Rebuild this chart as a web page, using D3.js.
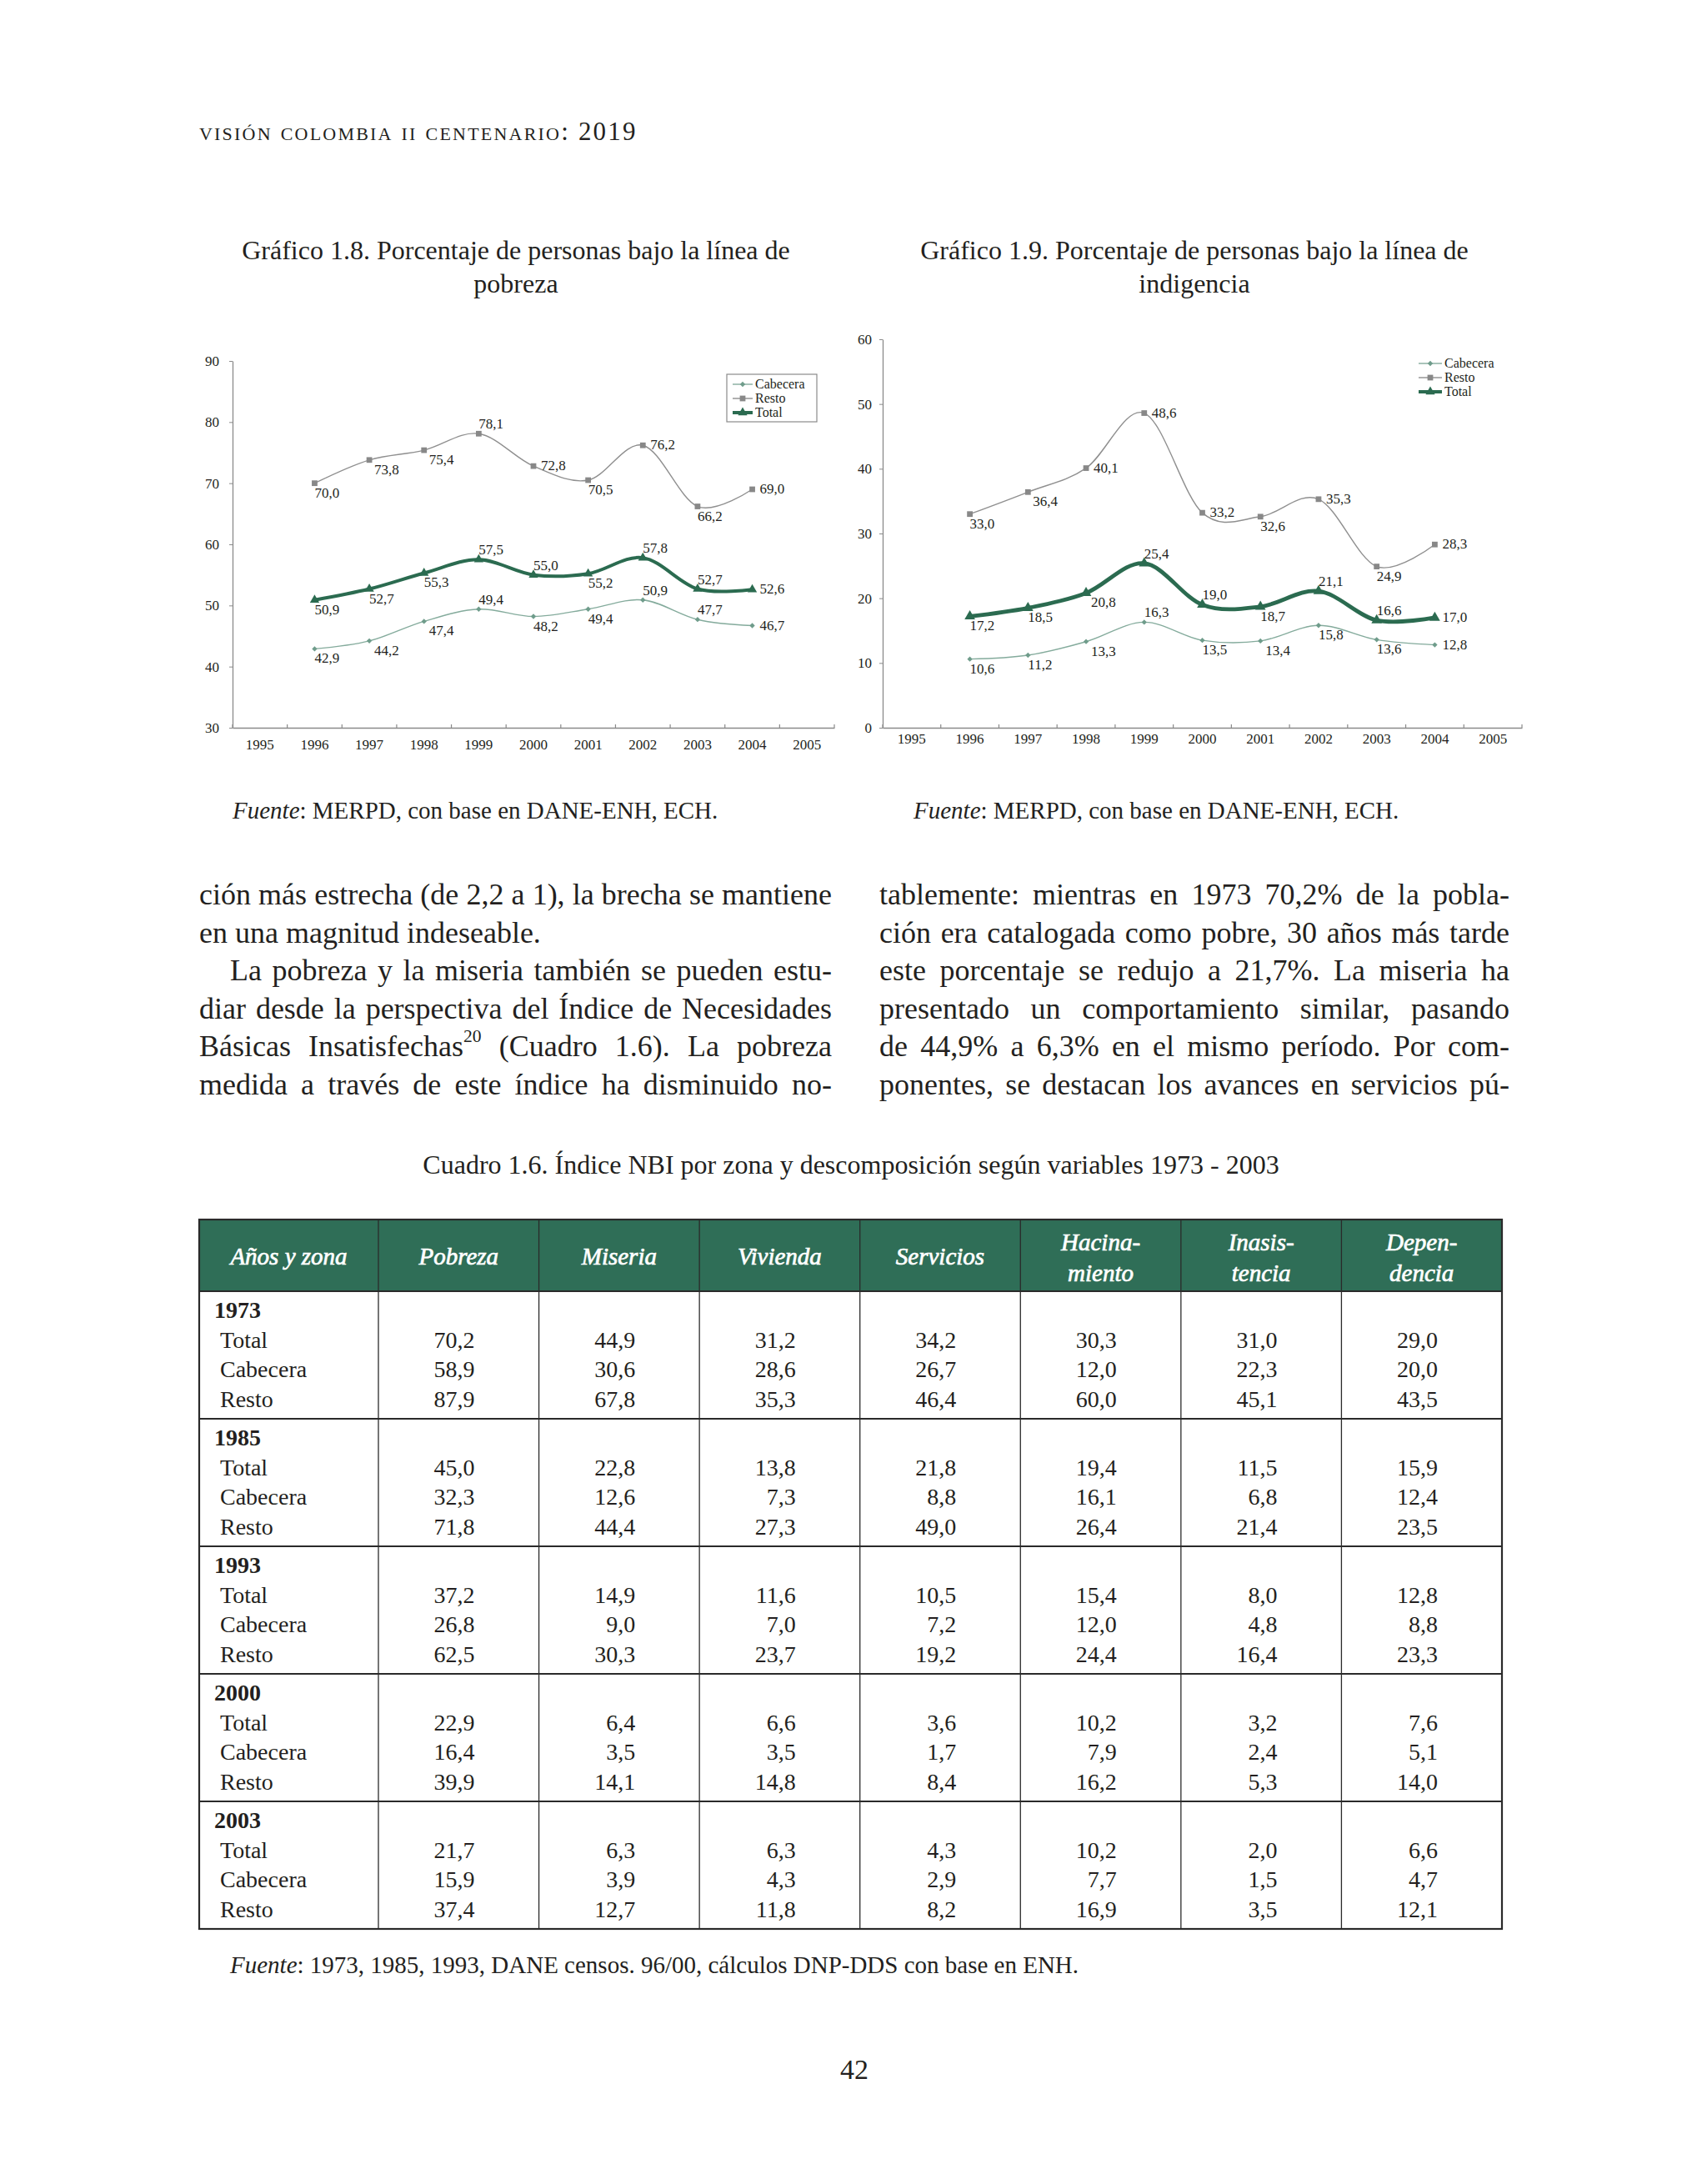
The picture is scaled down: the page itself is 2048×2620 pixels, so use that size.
<!DOCTYPE html>
<html>
<head>
<meta charset="utf-8">
<script src="https://cdn.jsdelivr.net/npm/d3@7"></script>
<style>
body { margin: 0; background: #fff; }
#page { position: relative; width: 2048px; height: 2620px; overflow: hidden;
        font-family: 'Liberation Serif', 'DejaVu Serif', serif; color: #231f20; }
#page svg { position: absolute; left: 0; top: 0; }
.col { position: absolute; top: 1051px; font-size: 36px; line-height: 45.5px; }
.col span { display: block; text-align: justify; text-align-last: justify; }
.col span.last { text-align-last: left; }
.col sup { font-size: 60%; line-height: 0; vertical-align: 0.8em; }
</style>
</head>
<body>
<div id="page"></div>
<script>
// categories on the x axis
let yearCats = ['1995', '1996', '1997', '1998', '1999', '2000', '2001', '2002', '2003', '2004', '2005']
let dataYears = ['1996', '1997', '1998', '1999', '2000', '2001', '2002', '2003', '2004']

// grafico 1.8 pobreza
let pobrezaCabecera = [42.9, 44.2, 47.4, 49.4, 48.2, 49.4, 50.9, 47.7, 46.7]
let pobrezaResto = [70.0, 73.8, 75.4, 78.1, 72.8, 70.5, 76.2, 66.2, 69.0]
let pobrezaTotal = [50.9, 52.7, 55.3, 57.5, 55.0, 55.2, 57.8, 52.7, 52.6]
let pobrezaTicks = [30, 40, 50, 60, 70, 80, 90]

// grafico 1.9 indigencia
let indigCabecera = [10.6, 11.2, 13.3, 16.3, 13.5, 13.4, 15.8, 13.6, 12.8]
let indigResto = [33.0, 36.4, 40.1, 48.6, 33.2, 32.6, 35.3, 24.9, 28.3]
let indigTotal = [17.2, 18.5, 20.8, 25.4, 19.0, 18.7, 21.1, 16.6, 17.0]
let indigTicks = [0, 10, 20, 30, 40, 50, 60]

// where the value label goes: b below, br below right, a above, r right
let pobrezaCabLab = ['b', 'br', 'br', 'a', 'b', 'b', 'a', 'a', 'r']
let pobrezaRestoLab = ['b', 'br', 'br', 'a', 'r', 'b', 'r', 'b', 'r']
let pobrezaTotalLab = ['b', 'b', 'b', 'a', 'a', 'b', 'a', 'a', 'r']
let indigCabLab = ['b', 'b', 'br', 'a', 'b', 'br', 'b', 'b', 'r']
let indigRestoLab = ['b', 'br', 'r', 'r', 'r', 'b', 'r', 'b', 'r']
let indigTotalLab = ['b', 'b', 'br', 'a', 'a', 'b', 'a', 'a', 'r']

// cuadro 1.6
let tableYears = ['1973', '1985', '1993', '2000', '2003']
let zonas = ['Total', 'Cabecera', 'Resto']
let tableHeads = [['Años y zona'], ['Pobreza'], ['Miseria'], ['Vivienda'], ['Servicios'],
                  ['Hacina-', 'miento'], ['Inasis-', 'tencia'], ['Depen-', 'dencia']]
let nbi1973 = [[70.2, 44.9, 31.2, 34.2, 30.3, 31.0, 29.0],
               [58.9, 30.6, 28.6, 26.7, 12.0, 22.3, 20.0],
               [87.9, 67.8, 35.3, 46.4, 60.0, 45.1, 43.5]]
let nbi1985 = [[45.0, 22.8, 13.8, 21.8, 19.4, 11.5, 15.9],
               [32.3, 12.6, 7.3, 8.8, 16.1, 6.8, 12.4],
               [71.8, 44.4, 27.3, 49.0, 26.4, 21.4, 23.5]]
let nbi1993 = [[37.2, 14.9, 11.6, 10.5, 15.4, 8.0, 12.8],
               [26.8, 9.0, 7.0, 7.2, 12.0, 4.8, 8.8],
               [62.5, 30.3, 23.7, 19.2, 24.4, 16.4, 23.3]]
let nbi2000 = [[22.9, 6.4, 6.6, 3.6, 10.2, 3.2, 7.6],
               [16.4, 3.5, 3.5, 1.7, 7.9, 2.4, 5.1],
               [39.9, 14.1, 14.8, 8.4, 16.2, 5.3, 14.0]]
let nbi2003 = [[21.7, 6.3, 6.3, 4.3, 10.2, 2.0, 6.6],
               [15.9, 3.9, 4.3, 2.9, 7.7, 1.5, 4.7],
               [37.4, 12.7, 11.8, 8.2, 16.9, 3.5, 12.1]]

let leftLines = ['ción más estrecha (de 2,2 a 1), la brecha se mantiene',
                 'en una magnitud indeseable.',
                 'La pobreza y la miseria también se pueden estu-',
                 'diar desde la perspectiva del Índice de Necesidades',
                 'Básicas Insatisfechas<sup>20</sup> (Cuadro 1.6). La pobreza',
                 'medida a través de este índice ha disminuido no-']
let rightLines = ['tablemente: mientras en 1973 70,2% de la pobla-',
                  'ción era catalogada como pobre, 30 años más tarde',
                  'este porcentaje se redujo a 21,7%. La miseria ha',
                  'presentado un comportamiento similar, pasando',
                  'de 44,9% a 6,3% en el mismo período. Por com-',
                  'ponentes, se destacan los avances en servicios pú-']

let ink = '#231f20'
let green = '#2b6b50'
let fmt = d3.formatLocale({ decimal: ',', thousands: '.', grouping: [3], currency: ['', ''] }).format('.1f')

let styles = {
    Cabecera: { line: '#84ab9c', mark: '#6f9c8b', width: 1.4, symbol: d3.symbolSquare, size: 20, rot: 45 },
    Resto: { line: '#8f8f8f', mark: '#888888', width: 1.4, symbol: d3.symbolSquare, size: 46, rot: 0 },
    Total: { line: green, mark: green, width: 4, symbol: d3.symbolTriangle, size: 55, rot: 0 }
}

let page = d3.select('#page')
let svg = page.append('svg').attr('width', 2048).attr('height', 2620)
              .style('font-family', "'Liberation Serif', serif")

// running head
svg.append('text')
   .attr('x', 239).attr('y', 168)
   .attr('font-size', 31).attr('fill', ink)
   .attr('letter-spacing', 2.2)
   .style('font-variant', 'small-caps')
   .text('visión colombia ii centenario: 2019')

let drawChart = (cfg) => {
    let g = svg.append('g')
    let x = d3.scaleBand().domain(yearCats).range([cfg.left, cfg.right])
    let y = d3.scaleLinear().domain(cfg.domain).range([cfg.bottom, cfg.top])
    let cx = (yr) => x(yr) + x.bandwidth() / 2

    // titles
    cfg.title.forEach((t, i) => {
        g.append('text').attr('x', cfg.titleX).attr('y', 311 + i * 40)
         .attr('text-anchor', 'middle').attr('font-size', 32).attr('fill', ink).text(t)
    })

    // y axis
    let yAxis = d3.axisLeft(y).tickValues(cfg.ticks).tickSize(4).tickSizeOuter(0)
                  .tickPadding(cfg.yPad).tickFormat(d3.format('d'))
    let ya = g.append('g').attr('transform', 'translate(' + cfg.left + ',0)').call(yAxis)
    ya.select('.domain').attr('stroke', '#8a8a8a').attr('stroke-width', 1.3)
    ya.selectAll('.tick line').attr('stroke', '#8a8a8a')
    ya.selectAll('.tick text').attr('font-size', 17).attr('fill', ink)
      .style('font-family', "'Liberation Serif', serif")

    // x axis
    let xAxis = d3.axisBottom(x).tickSize(0).tickPadding(cfg.xPad)
    let xa = g.append('g').attr('transform', 'translate(0,' + cfg.bottom + ')').call(xAxis)
    xa.select('.domain').attr('stroke', '#8a8a8a').attr('stroke-width', 1.3)
    xa.selectAll('.tick text').attr('font-size', 17).attr('fill', ink)
      .style('font-family', "'Liberation Serif', serif")
    let bounds = yearCats.map(d => x(d)).concat([cfg.right])
    g.selectAll('.xtick').data(bounds).enter().append('line')
     .attr('x1', d => d).attr('x2', d => d)
     .attr('y1', cfg.bottom).attr('y2', cfg.bottom - 4)
     .attr('stroke', '#8a8a8a').attr('stroke-width', 1.2)

    let line = d3.line()
                 .x((d, i) => cx(dataYears[i]))
                 .y(d => y(d))
                 .curve(d3.curveCardinal.tension(0))

    cfg.series.forEach(s => {
        let st = styles[s.name]
        g.append('path').datum(s.values)
         .attr('d', line).attr('fill', 'none')
         .attr('stroke', st.line).attr('stroke-width', s.name === 'Total' ? cfg.totalWidth : st.width)
         .attr('stroke-linejoin', 'round')
        g.selectAll(null).data(s.values).enter().append('path')
         .attr('d', d3.symbol(st.symbol, s.name === 'Total' ? cfg.triSize : st.size))
         .attr('transform', (d, i) => 'translate(' + cx(dataYears[i]) + ',' + y(d) + ') rotate(' + st.rot + ')')
         .attr('fill', st.mark)
    })
    // value labels on top
    cfg.series.forEach(s => {
        g.selectAll(null).data(s.values).enter().append('text')
         .attr('x', (d, i) => {
             let p = s.labels[i]
             let base = cx(dataYears[i])
             if (p === 'r') return base + 9
             if (p === 'br') return base + 6
             return base
         })
         .attr('y', (d, i) => {
             let p = s.labels[i]
             if (p === 'a') return y(d) - 6
             if (p === 'r') return y(d) + 5
             return y(d) + 17
         })
         .attr('font-size', 17).attr('fill', ink)
         .text(d => fmt(d))
    })

    // legend
    let lg = cfg.legend
    if (lg.box) {
        g.append('rect').attr('x', lg.box[0]).attr('y', lg.box[1])
         .attr('width', lg.box[2]).attr('height', lg.box[3])
         .attr('fill', '#fff').attr('stroke', '#8a8a8a').attr('stroke-width', 1.2)
    }
    ;['Cabecera', 'Resto', 'Total'].forEach((name, i) => {
        let st = styles[name]
        let yy = lg.y + i * lg.dy
        g.append('line').attr('x1', lg.x).attr('x2', lg.x + lg.len)
         .attr('y1', yy).attr('y2', yy)
         .attr('stroke', st.line).attr('stroke-width', st.width)
        g.append('path').attr('d', d3.symbol(st.symbol, st.size))
         .attr('transform', 'translate(' + (lg.x + lg.len / 2) + ',' + yy + ') rotate(' + st.rot + ')')
         .attr('fill', st.mark)
        g.append('text').attr('x', lg.x + lg.len + 3).attr('y', yy + 5)
         .attr('font-size', 16).attr('fill', ink).text(name)
    })

    // source
    let src = g.append('text').attr('x', cfg.srcX).attr('y', 982).attr('font-size', 29).attr('fill', ink)
    src.append('tspan').attr('font-style', 'italic').text('Fuente')
    src.append('tspan').text(': MERPD, con base en DANE-ENH, ECH.')
}

drawChart({
    left: 279, right: 1001, top: 433, bottom: 873,
    domain: [30, 90], ticks: pobrezaTicks, yPad: 12, xPad: 14,
    totalWidth: 4, triSize: 55,
    title: ['Gráfico 1.8. Porcentaje de personas bajo la línea de', 'pobreza'], titleX: 619,
    series: [
        { name: 'Cabecera', values: pobrezaCabecera, labels: pobrezaCabLab },
        { name: 'Resto', values: pobrezaResto, labels: pobrezaRestoLab },
        { name: 'Total', values: pobrezaTotal, labels: pobrezaTotalLab }
    ],
    legend: { x: 879, y: 461, dy: 17, len: 24, box: [872, 449, 108, 57] },
    srcX: 279
})

drawChart({
    left: 1059, right: 1826, top: 407, bottom: 873,
    domain: [0, 60], ticks: indigTicks, yPad: 9, xPad: 7,
    totalWidth: 4.8, triSize: 70,
    title: ['Gráfico 1.9. Porcentaje de personas bajo la línea de', 'indigencia'], titleX: 1433,
    series: [
        { name: 'Cabecera', values: indigCabecera, labels: indigCabLab },
        { name: 'Resto', values: indigResto, labels: indigRestoLab },
        { name: 'Total', values: indigTotal, labels: indigTotalLab }
    ],
    legend: { x: 1702, y: 436, dy: 17, len: 28, box: null },
    srcX: 1096
})

// body text columns
let addColumn = (lines, left, width) => {
    let col = page.append('div').attr('class', 'col')
                  .style('left', left + 'px').style('width', width + 'px')
    lines.forEach((t, i) => {
        let sp = col.append('span').html(t)
        if (i === 1 && lines === leftLines) sp.attr('class', 'last')
        if (i === 2 && lines === leftLines) sp.style('text-indent', '37px')
    })
}
addColumn(leftLines, 239, 759)
addColumn(rightLines, 1055, 756)

// cuadro 1.6
let tLeft = 239, tRight = 1802, tTop = 1463, hBottom = 1549, tBottom = 2314
svg.append('text').attr('x', 1021).attr('y', 1408).attr('text-anchor', 'middle')
   .attr('font-size', 32).attr('fill', ink)
   .text('Cuadro 1.6. Índice NBI por zona y descomposición según variables 1973 - 2003')

let colX = d3.scaleBand().domain(tableHeads.slice(1).map(h => h.join(''))).range([454, tRight])
let blockY = d3.scaleBand().domain(tableYears).range([hBottom, tBottom])
let nbiData = [nbi1973, nbi1985, nbi1993, nbi2000, nbi2003]

svg.append('rect').attr('x', tLeft).attr('y', tTop)
   .attr('width', tRight - tLeft).attr('height', hBottom - tTop).attr('fill', '#2f6e57')

// header text
tableHeads.forEach((h, i) => {
    let xc = i === 0 ? (tLeft + 454) / 2 : colX(h.join('')) + colX.bandwidth() / 2
    h.forEach((t, j) => {
        let yy = h.length === 1 ? 1517 : 1500 + j * 37
        svg.append('text').attr('x', xc).attr('y', yy).attr('text-anchor', 'middle')
           .attr('font-size', 29).attr('font-style', 'italic').attr('fill', '#fff')
           .attr('stroke', '#fff').attr('stroke-width', 0.7)
           .text(t)
    })
})

// body
tableYears.forEach((yr, b) => {
    let top = blockY(yr)
    svg.append('text').attr('x', 257).attr('y', top + 32)
       .attr('font-size', 28).attr('font-weight', 'bold').attr('fill', ink).text(yr)
    zonas.forEach((z, r) => {
        let yy = top + 32 + (r + 1) * 35.5
        svg.append('text').attr('x', 264).attr('y', yy)
           .attr('font-size', 28).attr('fill', ink).text(z)
        nbiData[b][r].forEach((v, c) => {
            let key = tableHeads[c + 1].join('')
            svg.append('text').attr('x', colX(key) + colX.bandwidth() - 77).attr('y', yy)
               .attr('text-anchor', 'end').attr('font-size', 28).attr('fill', ink)
               .text(fmt(v))
        })
    })
})

// grid lines
let grid = svg.append('g').attr('stroke', '#2a2a2a')
grid.selectAll('.v').data([454].concat(colX.domain().map(k => colX(k)).slice(1))).enter().append('line')
    .attr('x1', d => d).attr('x2', d => d).attr('y1', tTop).attr('y2', tBottom)
    .attr('stroke-width', 1.3)
grid.selectAll('.h').data(tableYears.slice(1).map(y => blockY(y)).concat([hBottom])).enter().append('line')
    .attr('x1', tLeft).attr('x2', tRight).attr('y1', d => d).attr('y2', d => d)
    .attr('stroke-width', 2.2)
grid.append('rect').attr('x', tLeft).attr('y', tTop)
    .attr('width', tRight - tLeft).attr('height', tBottom - tTop)
    .attr('fill', 'none').attr('stroke-width', 2.2)

let tsrc = svg.append('text').attr('x', 276).attr('y', 2367).attr('font-size', 29).attr('fill', ink)
tsrc.append('tspan').attr('font-style', 'italic').text('Fuente')
tsrc.append('tspan').text(': 1973, 1985, 1993, DANE censos. 96/00, cálculos DNP-DDS con base en ENH.')

svg.append('text').attr('x', 1025).attr('y', 2494).attr('text-anchor', 'middle')
   .attr('font-size', 34).attr('fill', ink).text('42')
</script>
</body>
</html>
